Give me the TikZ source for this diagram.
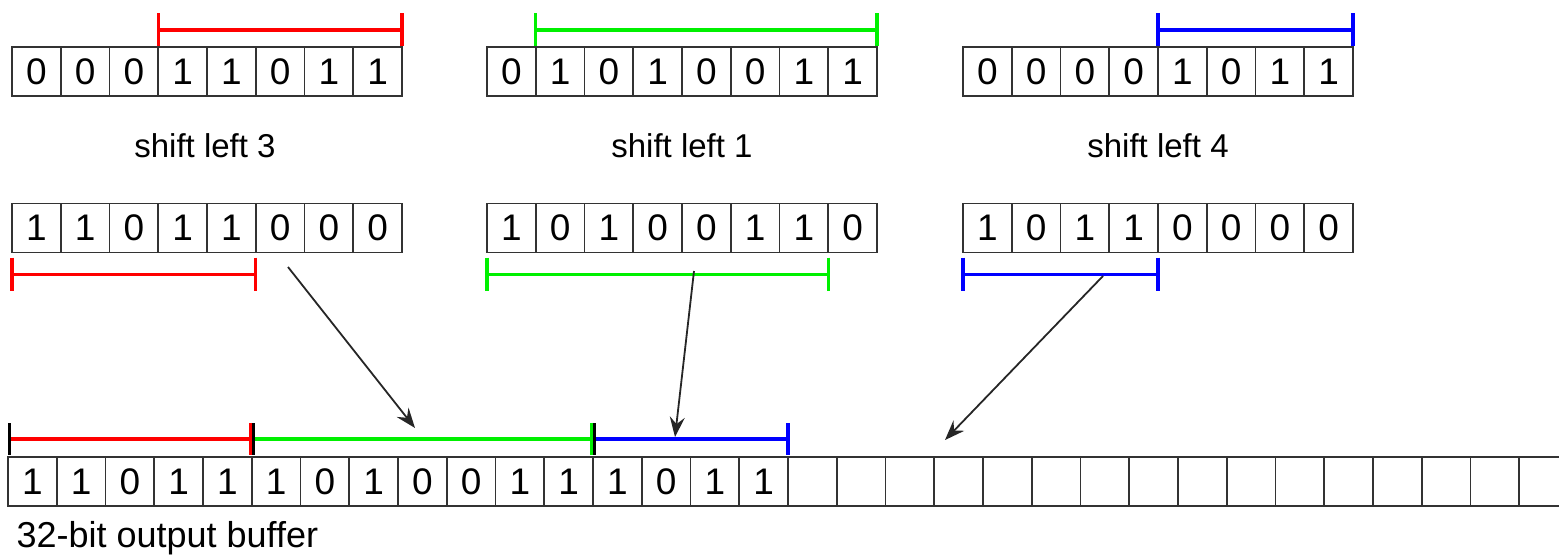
\documentclass[tikz,border=0pt]{standalone}
\usepackage{fontspec}
\setmainfont{Liberation Sans}
\usetikzlibrary{arrows.meta,calc}
\definecolor{spanred}{RGB}{255,0,0}
\definecolor{spangreen}{RGB}{0,240,0}
\definecolor{spanblue}{RGB}{0,0,255}

\tikzset{
  bitcell/.style={draw=black!80, line width=1.6pt, minimum width=48.75pt,
    minimum height=49pt, inner sep=0pt, outer sep=0pt,
    font=\fontsize{37}{37}\selectfont},
  span/.style={line width=3.2pt},
  caption/.style={font=\fontsize{33}{33}\selectfont, anchor=base},
  link/.style={line width=1.8pt, draw=black!85,
    -{Stealth[length=20pt,width=15pt,inset=7pt]}},
}

% bracket over a run of bits: #1 colour, #2 left end, #3 right end,
% #4 offset of the bar, #5/#6 offsets of the tick ends
\newcommand\bitspan[6]{%
  \draw[span,#1] ($#2+(0,#5)$) -- ($#2+(0,#6)$)
    ($#2+(0,#4)$) -- ($#3+(0,#4)$)
    ($#3+(0,#5)$) -- ($#3+(0,#6)$);}

\begin{document}
\begin{tikzpicture}[x=1pt,y=-1pt]
\useasboundingbox (0,0) rectangle (1559,555);
\clip (0,0) rectangle (1559,555);

% input bytes
\foreach \b [count=\i from 0] in {0,0,0,1,1,0,1,1}
  \node[bitcell] (a\i) at (12+24.375+\i*48.75, 71.5) {\b};
\foreach \b [count=\i from 0] in {0,1,0,1,0,0,1,1}
  \node[bitcell] (g\i) at (487+24.375+\i*48.75, 71.5) {\b};
\foreach \b [count=\i from 0] in {0,0,0,0,1,0,1,1}
  \node[bitcell] (k\i) at (963+24.375+\i*48.75, 71.5) {\b};

% significant bits of each input
\bitspan{spanred}{(a3.north west)}{(a7.north east)}{-17}{-34}{-1}
\bitspan{spangreen}{(g1.north west)}{(g7.north east)}{-17}{-34}{-1}
\bitspan{spanblue}{(k4.north west)}{(k7.north east)}{-17}{-34}{-1}

% shift amounts
\node[caption] (t1) at (205,157) {shift left 3};
\node[caption] (t2) at (682,157) {shift left 1};
\node[caption] (t3) at (1158,157) {shift left 4};

% shifted bytes
\foreach \b [count=\i from 0] in {1,1,0,1,1,0,0,0}
  \node[bitcell] (b\i) at (12+24.375+\i*48.75, 228) {\b};
\foreach \b [count=\i from 0] in {1,0,1,0,0,1,1,0}
  \node[bitcell] (h\i) at (487+24.375+\i*48.75, 228) {\b};
\foreach \b [count=\i from 0] in {1,0,1,1,0,0,0,0}
  \node[bitcell] (m\i) at (963+24.375+\i*48.75, 228) {\b};

\bitspan{spanred}{(b0.south west)}{(b4.south east)}{22}{5}{38}
\bitspan{spangreen}{(h0.south west)}{(h6.south east)}{22}{5}{38}
\bitspan{spanblue}{(m0.south west)}{(m3.south east)}{22}{5}{38}

% 32-bit output buffer
\foreach \b [count=\i from 0] in {1,1,0,1,1,1,0,1,0,0,1,1,1,0,1,1,
    {},{},{},{},{},{},{},{},{},{},{},{},{},{},{},{}}
  \node[bitcell] (c\i) at (8+24.375+\i*48.75, 481.5) {\b};

\bitspan{spanred}{($(c0.north west)+(1.5,0)$)}{($(c4.north east)+(-1.5,0)$)}{-18}{-34}{-2}
\bitspan{spangreen}{($(c5.north west)+(1.5,0)$)}{($(c11.north east)+(-1.5,0)$)}{-18}{-34}{-2}
\bitspan{spanblue}{($(c12.north west)+(1.5,0)$)}{(c15.north east)}{-18}{-34}{-2}
\foreach \n in {c0,c5,c12}
  \draw[span,black] ($(\n.north west)+(1.5,-34)$) -- ($(\n.north west)+(1.5,-2)$);

\node[caption, anchor=base west, font=\fontsize{36}{36}\selectfont] (buf) at (13,547) {32-bit output buffer};

% shifted bits go into the buffer
\coordinate (s1) at (288,267);
\coordinate (e1) at (415,428);
\coordinate (s2) at (694,271);
\coordinate (e2) at (675,437);
\coordinate (s3) at (1103,276);
\coordinate (e3) at (945,440);
\draw[link] (s1) -- (e1);
\draw[link] (s2) -- (e2);
\draw[link] (s3) -- (e3);
\end{tikzpicture}
\end{document}
